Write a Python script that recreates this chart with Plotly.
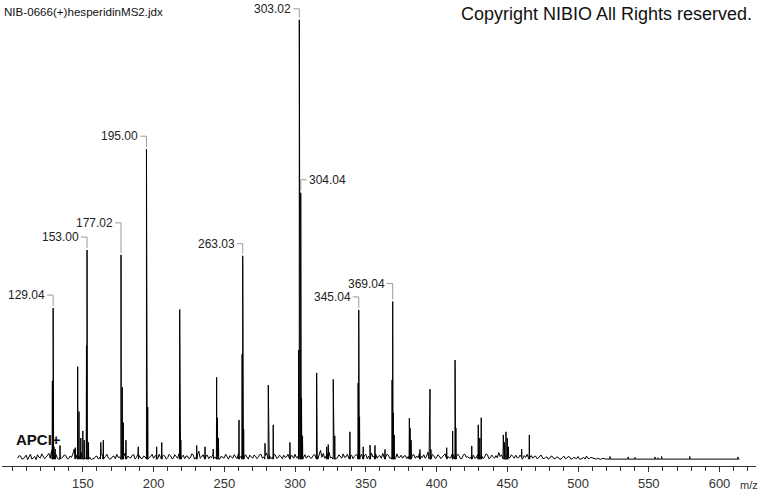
import plotly.graph_objects as go

# ---------------- data ----------------
title_text = "NIB-0666(+)hesperidinMS2.jdx"
copyright_text = "Copyright NIBIO All Rights reserved."
ion_mode = "APCI+"
x_unit = "m/z"

tick_values = [150, 200, 250, 300, 350, 400, 450, 500, 550, 600]

# baseline noise profile (relative intensity, %), at even m/z from 104
noise_even_start = 104
noise_even = [
    0.4, 0.9, 0.3, 1.1, 0.6, 0.2, 0.8, 1.2, 0.5, 0.9,
    0.6, 1.5, 2.2, 0.8, 0.4, 1.8, 0.7, 1.0, 0.3, 0.6,
    2.5, 1.2, 0.9, 1.4, 0.5, 0.2, 0.1, 0.3, 0.9, 0.6,
    1.1, 0.8, 0.5, 0.3, 0.9, 1.3, 0.7, 0.4, 1.6, 0.9,
    0.5, 1.2, 0.6, 1.0, 0.3, 0.7, 1.5, 0.8, 0.4, 1.1,
    1.3, 0.6, 0.9, 0.5, 1.0, 0.4, 0.8, 1.4, 0.7, 0.3,
    0.9, 0.5, 1.2, 0.6, 2.0, 0.7, 0.4, 1.1, 0.8, 1.3,
    0.6, 1.5, 0.9, 0.5, 0.8, 1.0, 0.4, 0.7, 1.4, 0.9,
    0.5, 0.8, 1.1, 0.4, 0.9, 0.6, 1.3, 0.7, 1.6, 1.0,
    0.6, 1.2, 0.5, 0.8, 1.1, 0.7, 0.4, 1.0, 1.3, 0.8,
    1.0, 0.6, 0.4, 0.9, 0.5, 1.2, 0.7, 2.2, 1.5, 0.9,
    1.8, 0.6, 1.0, 0.5, 0.9, 1.4, 0.7, 0.4, 1.1, 0.8,
    1.2, 0.7, 0.5, 1.3, 0.9, 1.6, 0.8, 0.4, 1.0, 1.5,
    0.7, 1.1, 0.5, 0.9, 1.4, 0.6, 0.4, 1.0, 0.8, 0.5,
    1.2, 0.9, 1.6, 0.6, 0.4, 1.8, 0.7, 1.0, 0.5, 0.9,
    0.6, 1.4, 0.8, 0.5, 1.2, 0.7, 1.0, 0.4, 1.3, 0.8,
    0.6, 1.1, 0.5, 1.6, 0.9, 0.7, 1.2, 0.5, 0.8, 1.0,
    1.7, 1.2, 0.9, 1.4, 0.6, 0.8, 1.1, 0.5, 0.7, 1.0,
    1.3, 0.6, 0.4, 0.9, 0.5, 1.1, 0.3, 0.7, 0.4, 0.8,
    0.3, 0.6, 0.2, 0.9, 0.4, 0.7, 0.3, 0.5, 0.8, 0.2,
    0.6, 0.9, 0.3, 0.5, 0.2, 0.4, 0.1, 0.3, 0.2,
]
# baseline noise profile at odd m/z from 105
noise_odd_start = 105
noise_odd = [
    1.0, 0.2, 0.7, 0.1, 1.3, 0.5, 0.1, 0.6, 1.4, 0.3,
    1.1, 0.4, 0.9, 1.3, 0.2, 0.5, 1.2, 0.3, 0.9, 1.4,
    0.3, 0.6, 1.7, 0.4, 1.0, 0.6, 0.3, 0.8, 0.2, 1.2,
    0.4, 1.3, 0.2, 0.8, 0.3, 0.6, 1.2, 0.9, 0.3, 0.5,
    1.1, 0.2, 1.4, 0.4, 0.9, 0.2, 0.6, 1.3, 0.9, 0.3,
    0.5, 1.1, 0.2, 1.3, 0.3, 1.2, 0.4, 0.6, 1.1, 0.9,
    0.3, 1.4, 0.2, 1.1, 0.4, 1.2, 0.9, 0.3, 0.5, 0.6,
    1.2, 0.3, 0.5, 1.3, 0.2, 0.6, 1.2, 0.3, 0.5, 0.3,
    1.2, 0.2, 0.6, 1.1, 0.3, 1.2, 0.4, 1.0, 0.5, 0.3,
    1.3, 0.4, 1.1, 0.3, 0.6, 1.3, 0.9, 0.4, 0.5, 1.3,
    0.3, 1.2, 0.9, 0.4, 1.1, 0.3, 1.5, 0.6, 0.4, 1.4,
    0.5, 1.3, 0.3, 1.2, 0.4, 0.6, 1.3, 0.9, 0.3, 1.2,
    0.4, 1.3, 1.1, 0.3, 0.5, 0.7, 1.4, 0.9, 0.4, 0.7,
    1.3, 0.4, 1.2, 0.3, 0.6, 1.1, 0.9, 0.3, 1.3, 1.1,
    0.4, 0.5, 0.8, 1.2, 0.9, 0.6, 1.3, 0.4, 1.2, 0.3,
    1.1, 0.4, 0.5, 1.3, 0.4, 1.3, 0.3, 1.2, 0.6, 0.4,
    1.3, 0.4, 1.2, 0.7, 0.3, 1.4, 0.3, 1.1, 0.4, 0.5,
    0.8, 0.5, 1.3, 0.5, 1.2, 0.4, 0.5, 1.1, 0.3, 0.6,
    0.5, 1.0, 0.8, 0.3, 0.9, 0.4, 0.6, 0.2, 0.9, 0.3,
    0.7, 0.2, 0.6, 0.3, 0.8, 0.2, 0.6, 0.3, 0.2, 0.5,
    0.2, 0.4, 0.6, 0.3, 0.2, 0.3, 0.4, 0.2,
]

# flat tail of the recorded range
tail_mz = [522, 614]
tail_int = [0.2, 0.2]

# peaks (m/z, relative intensity %)
peak_mz = [
    128.5, 129.04, 129.6, 130.5, 133.9, 144.7,
    146.4, 147.3, 148.6, 150.0, 151.0,
    152.6, 153.00, 154.0, 162.7, 164.5,
    177.02, 177.9, 178.6, 180.5, 189.2,
    195.00, 195.4, 195.9, 202.2, 205.8,
    218.5, 219.3, 230.5, 236.4, 242.2,
    244.6, 245.2, 245.9, 260.4, 262.6, 263.03, 263.7,
    278.8, 281.1, 281.6, 284.6, 296.4,
    302.6, 303.02, 303.5, 304.04, 304.6, 305.3,
    315.3, 315.9, 322.4, 323.5, 327.0, 327.5, 328.1, 338.8,
    344.6, 345.04, 345.6, 348.2, 353.0, 356.5, 363.6,
    368.6, 369.04, 369.5, 370.1,
    380.8, 381.3, 382.0, 388.3, 394.9, 395.4, 396.0, 407.2,
    411.4, 413.1, 413.7, 424.9, 429.5, 430.6, 431.6,
    447.2, 448.0, 449.1, 450.0, 450.8, 460.2, 465.6,
    522.6, 535.5, 540.3, 554.4, 556.5, 559.1, 579.0, 613.1,
]
peak_int = [
    18.0, 34.5, 3.0, 2.5, 3.3, 2.8,
    21.2, 11.0, 5.0, 6.6, 4.5,
    26.0, 47.7, 4.0, 4.0, 4.5,
    46.6, 16.5, 8.5, 4.5, 3.0,
    70.6, 36.0, 12.0, 3.0, 4.0,
    34.2, 4.5, 3.3, 3.0, 2.5,
    18.8, 9.6, 5.0, 9.1, 24.0, 46.4, 7.0,
    3.8, 17.0, 9.0, 8.0, 4.0,
    25.0, 100.0, 55.0, 60.7, 14.0, 5.5,
    19.8, 6.0, 3.0, 3.5, 18.3, 9.8, 5.5, 6.4,
    17.5, 34.1, 9.8, 3.0, 3.4, 3.3, 2.4,
    18.2, 36.0, 10.7, 5.7,
    9.5, 7.3, 4.5, 2.4, 8.4, 16.1, 2.4, 2.8,
    6.6, 22.7, 7.3, 3.2, 8.0, 5.0, 9.6,
    5.7, 4.0, 6.4, 5.0, 3.0, 2.5, 5.7,
    0.8, 0.7, 0.6, 0.7, 0.5, 0.8, 0.8, 0.7,
]

# labelled peaks
label_mz = [129.04, 153.00, 177.02, 195.00, 263.03, 303.02, 304.04, 345.04, 369.04]

# ---------------- styling ----------------
label_style = {  # pixel rise of the label above the peak top, side of the text
    129.04: (13, "left"), 153.00: (13, "left"), 177.02: (32, "left"),
    195.00: (13, "left"), 263.03: (12, "left"), 303.02: (11, "left"),
    304.04: (13, "right"), 345.04: (13, "left"), 369.04: (18, "left"),
}
FONT = "Liberation Sans, Arial, sans-serif"
W, H = 760, 492
ML, MR, MT, MB = 2, 4, 0, 26

# ---------------- build profile ----------------
points = []
for i, v in enumerate(noise_even):
    points.append((noise_even_start + 2 * i, v))
for i, v in enumerate(noise_odd):
    points.append((noise_odd_start + 2 * i, v))
for m, v in zip(tail_mz, tail_int):
    points.append((m, v))
side_base = 0.2
for m, h in zip(peak_mz, peak_int):
    points.append((m - 0.18, side_base))
    points.append((m, h))
    points.append((m + 0.18, side_base))
points.sort(key=lambda p: p[0])
xs = [p[0] for p in points]
ys = [p[1] for p in points]

fig = go.Figure()
fig.add_trace(go.Scatter(x=xs, y=ys, mode="lines",
                         line=dict(color="black", width=1),
                         hoverinfo="skip", showlegend=False))

peak_lookup = dict(zip(peak_mz, peak_int))
bracket = dict(color="#9a9a9a", width=1)
for m in label_mz:
    h = peak_lookup[m]
    rise, side = label_style[m]
    s = -1 if side == "left" else 1
    fig.add_shape(type="line", xref="x", yref="y", xsizemode="pixel", ysizemode="pixel",
                  xanchor=m, yanchor=h, x0=s * 6, x1=0, y0=rise, y1=rise, line=bracket)
    fig.add_shape(type="line", xref="x", yref="y", xsizemode="pixel", ysizemode="pixel",
                  xanchor=m, yanchor=h, x0=0, x1=0, y0=rise, y1=2, line=bracket)
    fig.add_annotation(x=m, y=h, xref="x", yref="y", text=f"{m:.2f}", showarrow=False,
                       xanchor="right" if side == "left" else "left", yanchor="middle",
                       xshift=s * 6, yshift=rise,
                       font=dict(family=FONT, size=12, color="#222"))

pw = W - ML - MR
ph = H - MT - MB

def px_x(p):
    return (p - ML) / pw

def px_y(p):
    return (H - MB - p) / ph

fig.add_annotation(xref="paper", yref="paper", x=px_x(2), y=px_y(11), text=title_text,
                   showarrow=False, xanchor="left", yanchor="middle",
                   font=dict(family=FONT, size=11.6, color="#111"))
fig.add_annotation(xref="paper", yref="paper", x=px_x(754), y=px_y(14), text=copyright_text,
                   showarrow=False, xanchor="right", yanchor="middle",
                   font=dict(family=FONT, size=18, color="#111"))
fig.add_annotation(xref="paper", yref="paper", x=px_x(14), y=px_y(439), text=f"<b>{ion_mode}</b>",
                   showarrow=False, xanchor="left", yanchor="middle",
                   font=dict(family=FONT, size=15, color="#111"))
fig.add_annotation(xref="paper", yref="paper", x=px_x(749), y=px_y(485), text=x_unit,
                   showarrow=False, xanchor="center", yanchor="middle",
                   font=dict(family=FONT, size=11, color="#333"))

fig.update_layout(
    width=W, height=H,
    margin=dict(l=ML, r=MR, t=MT, b=MB),
    paper_bgcolor="white", plot_bgcolor="white",
    showlegend=False,
    xaxis=dict(range=[92.9, 625.8], tickvals=tick_values,
               ticktext=[str(t) for t in tick_values],
               showgrid=False, zeroline=False,
               showline=True, linecolor="#333", linewidth=1,
               ticks="outside", ticklen=5, tickcolor="#333", tickwidth=1,
               minor=dict(dtick=10, tick0=0, ticks="outside", ticklen=4,
                          tickcolor="#333", tickwidth=1, showgrid=False),
               tickfont=dict(family=FONT, size=13, color="#333")),
    yaxis=dict(range=[-1.36, 104.5], visible=False, showgrid=False, zeroline=False),
)

fig.write_html("out.html", config={"displayModeBar": False},
               post_script="document.body.style.margin='0';")
